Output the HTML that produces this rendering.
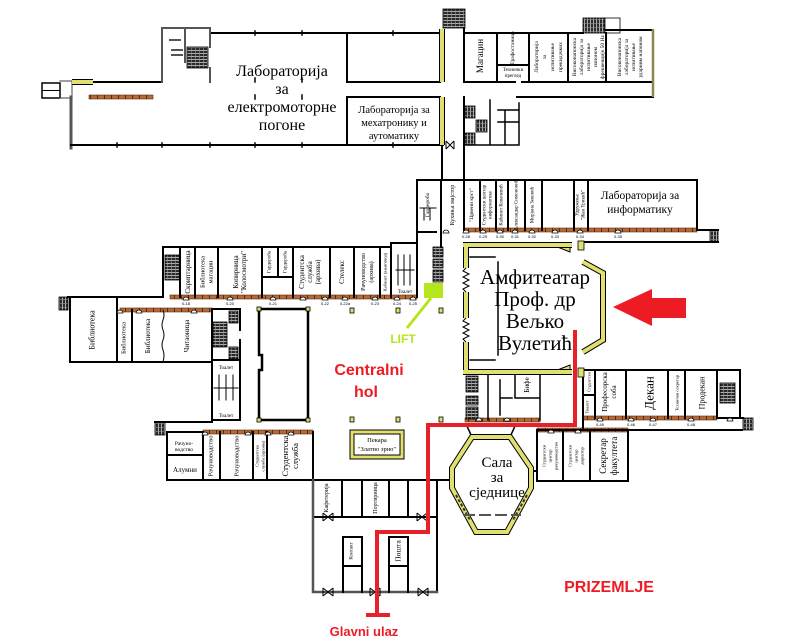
<!DOCTYPE html>
<html><head><meta charset="utf-8">
<style>
html,body{margin:0;padding:0;background:#fff;}
svg{display:block;}
.s{font-family:"Liberation Serif","DejaVu Serif",serif;fill:#000;}
.b{font-family:"Liberation Sans","DejaVu Sans",sans-serif;font-weight:bold;}
.v{font-family:"Liberation Serif","DejaVu Serif",serif;fill:#000;text-anchor:middle;dominant-baseline:central;}
.n{font-family:"Liberation Sans","DejaVu Sans",sans-serif;fill:#000;font-size:4px;text-anchor:middle;}
</style></head><body>
<svg width="800" height="644" viewBox="0 0 800 644" xmlns="http://www.w3.org/2000/svg">
<defs>
<pattern id="st" width="4" height="3" patternUnits="userSpaceOnUse"><rect width="4" height="3" fill="#2a2a2a"/><rect y="2" width="4" height="0.8" fill="#ccc"/><rect x="3" width="0.6" height="3" fill="#999"/></pattern>
<pattern id="sv" width="3" height="4" patternUnits="userSpaceOnUse"><rect width="3" height="4" fill="#2a2a2a"/><rect x="2" width="0.8" height="4" fill="#ccc"/><rect y="3" width="3" height="0.6" fill="#999"/></pattern>
<pattern id="br" width="7" height="4" patternUnits="userSpaceOnUse"><rect width="7" height="4" fill="#b36a35"/><rect x="6" width="1" height="4" fill="#5a2a10"/></pattern>
</defs>
<rect width="800" height="644" fill="#fff"/>

<!-- brick strips -->
<g>
<rect x="89" y="95" width="64" height="4" fill="url(#br)" stroke="#5a2a10" stroke-width="0.6"/>
<rect x="170" y="295" width="247" height="4" fill="url(#br)" stroke="#5a2a10" stroke-width="0.6"/>
<rect x="465" y="228" width="232" height="4" fill="url(#br)" stroke="#5a2a10" stroke-width="0.6"/>
<rect x="120" y="308" width="92" height="4" fill="url(#br)" stroke="#5a2a10" stroke-width="0.6"/>
<rect x="203" y="430" width="110" height="4" fill="url(#br)" stroke="#5a2a10" stroke-width="0.6"/>
<rect x="537" y="428" width="91" height="4" fill="url(#br)" stroke="#5a2a10" stroke-width="0.6"/>
<rect x="583" y="416" width="134" height="4" fill="url(#br)" stroke="#5a2a10" stroke-width="0.6"/>
<rect x="465" y="418" width="75" height="4" fill="url(#br)" stroke="#5a2a10" stroke-width="0.6"/>
</g>

<!-- stairs -->
<g stroke="#000" stroke-width="0.8">
<rect x="443" y="9" width="22" height="19" fill="url(#st)"/>
<rect x="583" y="18" width="22" height="15" fill="url(#sv)"/>
<rect x="605" y="18" width="15" height="15" fill="#fff"/>
<rect x="187" y="47" width="21" height="21" fill="url(#st)"/>
<rect x="464" y="106" width="11" height="12" fill="url(#sv)"/>
<rect x="476" y="120" width="11" height="12" fill="url(#sv)"/>
<rect x="464" y="133" width="11" height="12" fill="url(#sv)"/>
<rect x="165" y="255" width="15" height="25" fill="url(#st)"/>
<rect x="433" y="247" width="10" height="10" fill="url(#st)"/>
<rect x="433" y="259" width="10" height="9" fill="url(#st)"/>
<rect x="433" y="270" width="10" height="12" fill="url(#st)"/>
<rect x="59" y="297" width="9" height="13" fill="url(#sv)"/>
<rect x="213" y="322" width="14" height="25" fill="url(#st)"/>
<rect x="229" y="311" width="9" height="12" fill="url(#st)"/>
<rect x="229" y="347" width="9" height="12" fill="url(#st)"/>
<rect x="155" y="422" width="10" height="13" fill="url(#sv)"/>
<rect x="466" y="376" width="12" height="16" fill="url(#st)"/>
<rect x="466" y="396" width="12" height="9" fill="url(#st)"/>
<rect x="466" y="407" width="12" height="12" fill="url(#st)"/>
<rect x="720" y="383" width="15" height="20" fill="url(#st)"/>
<rect x="743" y="418" width="10" height="12" fill="url(#sv)"/>
<rect x="710" y="230" width="8" height="12" fill="url(#sv)"/>
</g>

<!-- black walls -->
<g fill="none" stroke="#000" stroke-width="2" stroke-linecap="square">
<rect x="42" y="83" width="18" height="15" stroke-width="1.5"/>
<path d="M42 90.5 H60" stroke-width="1"/>
<path d="M60 81 H72 V98 H60" stroke="#666" stroke-width="1.2"/>
<path d="M93 82 H162"/>
<path d="M71 97 V148" stroke="#555" stroke-width="3"/>
<path d="M71 145 H443"/>
<path d="M210 33 H443"/>
<path d="M162 28 V82 M162 28 H185 M187 28 H210 V47 M210 68 V82 M185 28 V62 M170 40 H180 M172 50 H182 M172 55 H182" stroke="#555"/>
<path d="M347 33 V82 M347 97 V145 M347 82 H440 M347 97 H440"/>
<path d="M464 28 V82 M464 97 V180 M442 145 V180"/>
<path d="M464 33 H583 M606 30 H653"/>
<path d="M464 82 H515 M522 82 H653 M517 97 H653"/>
<path d="M497 33 V82 M529 33 V82 M568 33 V82 M606 33 V82 M497 65 H529"/>
<path d="M464 145 H519 V103 M490 100 V145 M498 110 H518 M498 122 H518 M505 110 V145" stroke-width="1.5"/>
<!-- ticks -->
<path d="M117 143 V147 M162 143 V147 M210 143 V147 M255 143 V147 M302 143 V147 M255 31 V35 M302 31 V35 M393 31 V35 M393 143 V147" stroke-width="1.5"/>
<path d="M255 78 V82 M302 78 V82 M255 95 V99 M302 95 V99" stroke-width="1.5"/>
<!-- mid row left -->
<path d="M163 247 H391 V243 H417 M163 247 V297 M417 180 V297"/>
<path d="M180 247 V297 M195 247 V297 M218 247 V297 M262 247 V297 M293 247 V297 M330 247 V297 M354 247 V297 M380 247 V297 M391 247 V297 M278 247 V277 M262 277 H293"/>
<path d="M398 255 V285 M404 255 V285 M410 255 V285 M396 270 H414" stroke-width="1"/>
<!-- mid row right -->
<path d="M417 180 H697 V230 M441 180 V247 M417 232 H436"/>
<path d="M464 180 V230 M480 180 V230 M496 180 V230 M508 180 V230 M525 180 V230 M542 180 V230 M574 180 V230 M588 180 V230"/>
<path d="M697 230 H718 M583 242 H718"/>
<path d="M420 208 H436 M424 208 V220 M430 208 V220" stroke-width="1"/>
<!-- left wing library -->
<path d="M68 297 H163 M70 297 V362 H212 M117 297 V362 M132 310 V362"/>
<path d="M163 310 Q165 315 163 320 Q161 325 163 330 Q165 335 163 340 Q161 345 163 350 Q165 355 163 362" stroke-width="1"/>
<path d="M212 309 V420 M212 309 H240 M240 309 V330 M240 340 V420 M212 360 H240 M212 420 H240"/>
<path d="M219 375 V400 M226 375 V400 M233 375 V400 M214 388 H238" stroke-width="1"/>
<!-- central big rect -->
<path d="M259 309 H308 V420 H259 V370 H262 V355 H259 Z" stroke-width="2.5"/>
<!-- lower-left rooms -->
<path d="M155 422 H212 M167 432 V480 H313 V432 M167 432 H203"/>
<path d="M203 432 V480 M220 432 V480 M253 432 V480 M267 432 V480 M167 455 H203"/>
<!-- entrance -->
<path d="M313 480 H452 M437 480 V592 M313 517 H437"/>
<path d="M313 480 V592 H437" stroke="#555" stroke-width="2.5"/>
<path d="M342 480 V517 M362 480 V517 M389 480 V517 M408 480 V517"/>
<path d="M343 537 H362 V566 M343 537 V592 M343 566 H362 V592 M389 537 H408 V566 M389 537 V592 M389 566 H408 V592"/>
<!-- right lower -->
<path d="M537 430 H628 V481 H537 Z M563 430 V481 M590 430 V481 M531 471 H537"/>
<path d="M628 430 H742"/>
<!-- dean block -->
<path d="M583 370 H740 V418 M583 375 V430 M595 370 V418 M626 370 V418 M668 370 V418 M685 370 V418 M717 370 V418 M583 395 H595 M717 418 H743"/>
<!-- bife -->
<path d="M540 372 V420 M515 372 V398 H540 M500 380 V415 M500 398 H512 M488 372 V420" stroke-width="1.5"/>
<!-- amphi inner -->
<path d="M498 262 V355" stroke-width="1.5"/>
<path d="M470 257 H495 M470 360 H495" stroke-width="1.5"/>
<path d="M555 246 L570 246 L570 252 Z M555 371 L570 371 L570 365 Z" stroke-width="1" fill="#e0e070"/>
<!-- octagon top links -->
<path d="M472 437 L466 424 M510 437 L516 424" stroke-width="1.5"/>
<path d="M437 480 H452" />
</g>

<!-- yellow walls -->
<g fill="none" stroke-linecap="butt">
<path d="M72 82 H93 M442 29 V82 M442 97 V145 M466 245 V268 M466 292 V318 M466 342 V372 M463 245 H572 M463 372 H572 M583 262 L603 273 V340 L583 352 M472 437 H510 L531 468 V488 L507 532 H476 L452 488 V468 Z" stroke="#000" stroke-width="6"/>
<path d="M72 82 H93 M442 29 V82 M442 97 V145 M466 245 V268 M466 292 V318 M466 342 V372 M463 245 H572 M463 372 H572 M583 262 L603 273 V340 L583 352 M472 437 H510 L531 468 V488 L507 532 H476 L452 488 V468 Z" stroke="#e0e070" stroke-width="4"/>
<path d="M456 495 L470 520 M527 495 L513 520" stroke="#333" stroke-width="2" stroke-dasharray="3 2"/>
<rect x="352" y="432" width="50" height="25" stroke="#000" stroke-width="5"/>
<rect x="352" y="432" width="50" height="25" stroke="#e0e070" stroke-width="3"/>
<path d="M653 29 V97" stroke="#8a8a50" stroke-width="2.5"/>
<path d="M463 515 H521" stroke="#555" stroke-width="2" stroke-dasharray="12 4"/>
</g>
<g fill="#e0e070" stroke="#000" stroke-width="0.8">
<rect x="578" y="241" width="6" height="9"/>
<rect x="578" y="368" width="6" height="9"/>
<rect x="257" y="307" width="4" height="4"/><rect x="306" y="307" width="4" height="4"/>
<rect x="257" y="418" width="4" height="4"/><rect x="306" y="418" width="4" height="4"/>
<rect x="350" y="308" width="4" height="5"/><rect x="396" y="308" width="4" height="5"/><rect x="439" y="308" width="4" height="5"/>
<rect x="350" y="417" width="4" height="5"/><rect x="396" y="417" width="4" height="5"/><rect x="439" y="417" width="4" height="5"/>
</g>
<!-- zigzag doors amphi -->
<g fill="none" stroke="#000" stroke-width="1">
<path d="M466 268 L463 271 L469 274 L463 277 L469 280 L463 283 L469 286 L463 289 L466 292"/>
<path d="M466 318 L463 321 L469 324 L463 327 L469 330 L463 333 L469 336 L463 339 L466 342"/>
</g>
<!-- door arcs -->
<g fill="#fff" stroke="#000" stroke-width="0.8">
<path d="M183 300 A3 3 0 0 1 189 300 Z M227 300 A3 3 0 0 1 233 300 Z M270 300 A3 3 0 0 1 276 300 Z M300 300 A3 3 0 0 1 306 300 Z M322 300 A3 3 0 0 1 328 300 Z M342 300 A3 3 0 0 1 348 300 Z M372 300 A3 3 0 0 1 378 300 Z M394 300 A3 3 0 0 1 400 300 Z M410 300 A3 3 0 0 1 416 300 Z"/>
<path d="M443 233 A3 3 0 0 1 449 233 Z M463 233 A3 3 0 0 1 469 233 Z M480 233 A3 3 0 0 1 486 233 Z M497 233 A3 3 0 0 1 503 233 Z M512 233 A3 3 0 0 1 518 233 Z M529 233 A3 3 0 0 1 535 233 Z M552 233 A3 3 0 0 1 558 233 Z M577 233 A3 3 0 0 1 583 233 Z M615 233 A3 3 0 0 1 621 233 Z"/>
<path d="M117 313 A3 3 0 0 1 123 313 Z M136 313 A3 3 0 0 1 142 313 Z M191 313 A3 3 0 0 1 197 313 Z"/>
<path d="M202 435 A3 3 0 0 1 208 435 Z M245 435 A3 3 0 0 1 251 435 Z M265 435 A3 3 0 0 1 271 435 Z M288 435 A3 3 0 0 1 294 435 Z"/>
<path d="M597 421 A3 3 0 0 1 603 421 Z M628 421 A3 3 0 0 1 634 421 Z M650 421 A3 3 0 0 1 656 421 Z M688 421 A3 3 0 0 1 694 421 Z M727 421 A3 3 0 0 1 733 421 Z"/>
<path d="M476 421 A3 3 0 0 1 482 421 Z M504 421 A3 3 0 0 1 510 421 Z M548 433 A3 3 0 0 1 554 433 Z M575 433 A3 3 0 0 1 581 433 Z"/>
</g>
<!-- bowtie doors -->
<g fill="#fff" stroke="#000" stroke-width="1">
<path d="M323 588 V596 M333 588 V596 M323 588 L333 596 M323 596 L333 588"/>
<path d="M370 588 V596 M380 588 V596 M370 588 L380 596 M370 596 L380 588"/>
<path d="M418 588 V596 M428 588 V596 M418 588 L428 596 M418 596 L428 588"/>
<path d="M323 513 V521 M333 513 V521 M323 513 L333 521 M323 521 L333 513"/>
<path d="M417 513 V521 M427 513 V521 M417 513 L427 521 M417 521 L427 513"/>
<path d="M446 141 V149 M454 141 V149 M446 141 L454 149 M446 149 L454 141"/>
</g>

<!-- lift -->
<rect x="424" y="283" width="19" height="15" fill="#b5e61d"/>
<path d="M431 298 L407 328" stroke="#b5e61d" stroke-width="3"/>
<text x="403" y="343" class="b" font-size="12" fill="#b5e61d" text-anchor="middle">LIFT</text>

<!-- red path -->
<path d="M575 330 V425 H428 V532 H377 V615" fill="none" stroke="#e8202a" stroke-width="4" stroke-linejoin="miter"/>
<path d="M366 615 H390" stroke="#e8202a" stroke-width="4"/>
<!-- red arrow -->
<polygon points="613,307 652,289 652,298 686,298 686,318 652,318 652,326" fill="#ed1c24"/>

<!-- big labels -->
<g class="s" text-anchor="middle">
<text x="282" y="76" font-size="16">Лабораторија</text>
<text x="282" y="94" font-size="16">за</text>
<text x="282" y="112" font-size="16">електромоторне</text>
<text x="282" y="130" font-size="16">погоне</text>
<text x="394" y="113" font-size="10.5">Лабораторија за</text>
<text x="394" y="126" font-size="10.5">мехатронику и</text>
<text x="394" y="139" font-size="10.5">аутоматику</text>
<text x="640" y="199" font-size="11.5">Лабораторија за</text>
<text x="640" y="213" font-size="11.5">информатику</text>
<text x="535" y="284" font-size="21">Амфитеатар</text>
<text x="535" y="306" font-size="21">Проф. др</text>
<text x="535" y="328" font-size="21">Вељко</text>
<text x="535" y="350" font-size="21">Вулетић</text>
<text x="497" y="467" font-size="15">Сала</text>
<text x="497" y="482" font-size="15">за</text>
<text x="497" y="497" font-size="15">сједнице</text>
<text x="377" y="442" font-size="6.5">Пекара</text>
<text x="377" y="451" font-size="6.5">"Златно зрно"</text>
<text x="184" y="445" font-size="5.5">Рачуно-</text>
<text x="184" y="451" font-size="5.5">водство</text>
<text x="185" y="472" font-size="7">Алумни</text>
<text x="513" y="71" font-size="5">Технички</text>
<text x="513" y="77" font-size="5">преглед</text>
<text x="226" y="369" font-size="5">Тоалет</text>
<text x="226" y="417" font-size="5">Тоалет</text>
<text x="405" y="293" font-size="5">Тоалет</text>
</g>
<!-- room numbers -->
<g class="n">
<text x="186" y="305">0-18</text><text x="230" y="305">0-20</text><text x="273" y="305">0-21</text><text x="325" y="305">0-22</text><text x="345" y="305">0-22a</text><text x="375" y="305">0-23</text><text x="397" y="305">0-24</text><text x="413" y="305">0-25</text>
<text x="466" y="238">0-28</text><text x="483" y="238">0-29</text><text x="500" y="238">0-30</text><text x="515" y="238">0-31</text><text x="532" y="238">0-32</text><text x="555" y="238">0-33</text><text x="580" y="238">0-34</text><text x="618" y="238">0-35</text>
<text x="600" y="426">0-45</text><text x="631" y="426">0-46</text><text x="653" y="426">0-47</text><text x="691" y="426">0-48</text>
</g>

<!-- vertical labels -->
<g class="v">
<text transform="translate(480,56) rotate(-90)" font-size="9">Магацин</text>
<text transform="translate(513,48) rotate(-90)" font-size="5.5">Трафостаница</text>
<text transform="translate(537,57) rotate(-90)" font-size="5.5">Лабораторија</text>
<text transform="translate(545,57) rotate(-90)" font-size="5.5">за</text>
<text transform="translate(553,57) rotate(-90)" font-size="5.5">испитивање</text>
<text transform="translate(561,57) rotate(-90)" font-size="5.5">прекидачких</text>
<text transform="translate(575,57) rotate(-90)" font-size="5.5">Високонапонска</text>
<text transform="translate(582,57) rotate(-90)" font-size="5.5">лабораторија за</text>
<text transform="translate(589,57) rotate(-90)" font-size="5.5">испитивање</text>
<text transform="translate(596,57) rotate(-90)" font-size="5.5">напоном</text>
<text transform="translate(603,57) rotate(-90)" font-size="5.5">фреквенције 50 Hz</text>
<text transform="translate(620,57) rotate(-90)" font-size="5.5">Високонапонска</text>
<text transform="translate(627,57) rotate(-90)" font-size="5.5">лабораторија за</text>
<text transform="translate(634,57) rotate(-90)" font-size="5.5">испитивање</text>
<text transform="translate(641,57) rotate(-90)" font-size="5.5">ударним напоном</text>

<text transform="translate(188,272) rotate(-90)" font-size="7">Скриптарница</text>
<text transform="translate(203,272) rotate(-90)" font-size="6.5">Библиотека</text>
<text transform="translate(211,272) rotate(-90)" font-size="6.5">магацин</text>
<text transform="translate(236,272) rotate(-90)" font-size="7">Копирница</text>
<text transform="translate(244,272) rotate(-90)" font-size="7">"Колосмотри"</text>
<text transform="translate(270,262) rotate(-90)" font-size="5">Гардероба</text>
<text transform="translate(286,262) rotate(-90)" font-size="5">Гардероба</text>
<text transform="translate(302,272) rotate(-90)" font-size="7">Студентска</text>
<text transform="translate(310,272) rotate(-90)" font-size="7">служба</text>
<text transform="translate(318,272) rotate(-90)" font-size="7">(архива)</text>
<text transform="translate(342,272) rotate(-90)" font-size="7">Стелекс</text>
<text transform="translate(364,272) rotate(-90)" font-size="6">Рачуноводство</text>
<text transform="translate(372,272) rotate(-90)" font-size="6">(архива)</text>
<text transform="translate(385,272) rotate(-90)" font-size="4.5">Кабинет (књиговод)</text>

<text transform="translate(428,205) rotate(-90)" font-size="5.5">Гардероба</text>
<text transform="translate(453,205) rotate(-90)" font-size="6">Кухиња мајстор</text>
<text transform="translate(472,205) rotate(-90)" font-size="5.5">"Црвени крст"</text>
<text transform="translate(485,205) rotate(-90)" font-size="5">Студентски центар</text>
<text transform="translate(491,205) rotate(-90)" font-size="5">информатике</text>
<text transform="translate(502,205) rotate(-90)" font-size="5">Кабинет Ковачевић</text>
<text transform="translate(517,205) rotate(-90)" font-size="5">Александар Симоновић</text>
<text transform="translate(533,205) rotate(-90)" font-size="5">Мирјана Зековић</text>
<text transform="translate(578,205) rotate(-90)" font-size="5">Удружење</text>
<text transform="translate(584,205) rotate(-90)" font-size="5">"Жан Трикић"</text>

<text transform="translate(92,330) rotate(-90)" font-size="8">Библиотека</text>
<text transform="translate(124,338) rotate(-90)" font-size="6.5">Библиотека</text>
<text transform="translate(148,336) rotate(-90)" font-size="7">Библиотека</text>
<text transform="translate(187,336) rotate(-90)" font-size="7">Читаоница</text>

<text transform="translate(211,456) rotate(-90)" font-size="6.5">Рачуноводство</text>
<text transform="translate(237,456) rotate(-90)" font-size="6.5">Рачуноводство</text>
<text transform="translate(257,456) rotate(-90)" font-size="4.5">Студентска</text>
<text transform="translate(263,456) rotate(-90)" font-size="4.5">служба (архива)</text>
<text transform="translate(285,456) rotate(-90)" font-size="8.5">Студентска</text>
<text transform="translate(295,456) rotate(-90)" font-size="8.5">служба</text>

<text transform="translate(327,498) rotate(-90)" font-size="6">Кафетерија</text>
<text transform="translate(376,498) rotate(-90)" font-size="6">Портирница</text>
<text transform="translate(352,551) rotate(-90)" font-size="5">Контакт</text>
<text transform="translate(398,551) rotate(-90)" font-size="7.5">Пошта</text>

<text transform="translate(544,456) rotate(-90)" font-size="4.5">Студентски</text>
<text transform="translate(550,456) rotate(-90)" font-size="4.5">центар</text>
<text transform="translate(556,456) rotate(-90)" font-size="4.5">рачуноводство</text>
<text transform="translate(570,456) rotate(-90)" font-size="4.5">Студентски</text>
<text transform="translate(576,456) rotate(-90)" font-size="4.5">центар</text>
<text transform="translate(582,456) rotate(-90)" font-size="4.5">директор</text>
<text transform="translate(603,456) rotate(-90)" font-size="9">Секретар</text>
<text transform="translate(614,456) rotate(-90)" font-size="9">факултета</text>

<text transform="translate(589,382) rotate(-90)" font-size="4">Студентски</text>
<text transform="translate(587,407) rotate(-90)" font-size="4.5">Тоалет</text>
<text transform="translate(605,392) rotate(-90)" font-size="7">Професорска</text>
<text transform="translate(614,392) rotate(-90)" font-size="7">соба</text>
<text transform="translate(649,393) rotate(-90)" font-size="13">Декан</text>
<text transform="translate(677,393) rotate(-90)" font-size="4.5">Технички секретар</text>
<text transform="translate(702,393) rotate(-90)" font-size="8">Продекан</text>
<text transform="translate(527,385) rotate(-90)" font-size="7">Бифе</text>
</g>

<!-- red labels -->
<g class="b" fill="#ed1c24" text-anchor="middle">
<text x="369" y="375" font-size="16">Centralni</text>
<text x="366" y="397" font-size="16">hol</text>
<text x="609" y="592" font-size="16">PRIZEMLJE</text>
<text x="364" y="636" font-size="13">Glavni ulaz</text>
</g>
</svg>
</body></html>
